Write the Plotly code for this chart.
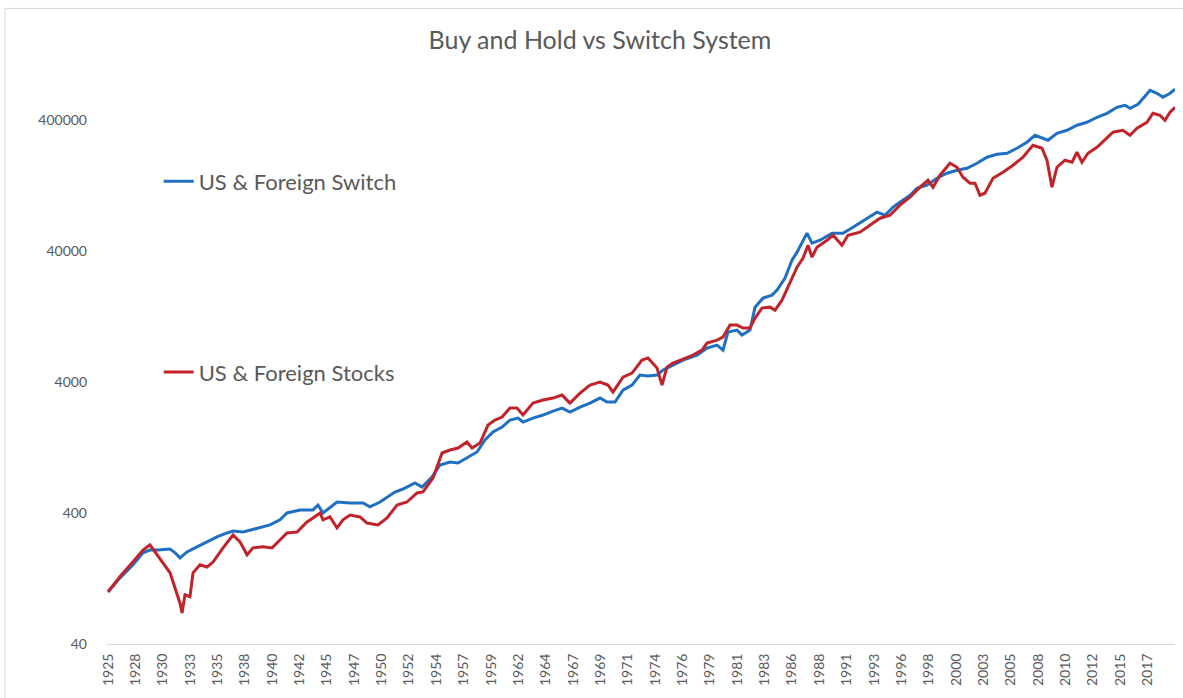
import plotly.graph_objects as go

# ---- data (year as decimal, value on log scale) ----
switch_years = [1925.92, 1926.98, 1928.13, 1929.01, 1929.63, 1930.34, 1931.40, 1931.84, 1932.28, 1932.90,
                1933.78, 1934.67, 1935.55, 1936.43, 1936.96, 1937.85, 1939.08, 1940.23, 1941.11, 1941.73,
                1942.88, 1944.03, 1944.47, 1944.91, 1946.15, 1947.30, 1948.45, 1949.06, 1949.95, 1950.21,
                1951.27, 1951.98, 1953.04, 1953.66, 1954.54, 1955.25, 1956.13, 1956.84, 1957.63, 1958.52,
                1959.22, 1959.93, 1960.73, 1961.43, 1962.14, 1962.58, 1963.46, 1964.35, 1965.23, 1966.03,
                1966.73, 1967.62, 1968.50, 1969.38, 1970.00, 1970.71, 1971.41, 1972.21, 1972.91, 1973.62,
                1974.42, 1974.95, 1975.83, 1976.72, 1977.95, 1978.84, 1979.72, 1980.25, 1980.69, 1981.49,
                1981.93, 1982.63, 1983.08, 1983.78, 1984.58, 1985.02, 1985.73, 1986.34, 1986.79, 1987.23,
                1987.67, 1988.11, 1988.82, 1989.88, 1990.85, 1991.73, 1992.97, 1993.85, 1994.56, 1995.27,
                1995.88, 1996.77, 1997.39, 1998.27, 1999.15, 2000.04, 2000.92, 2001.80, 2002.69, 2003.57,
                2004.45, 2005.34, 2006.22, 2007.10, 2007.81, 2008.52, 2008.96, 2009.75, 2010.64, 2011.52,
                2012.40, 2013.29, 2014.17, 2015.05, 2015.76, 2016.20, 2016.91, 2017.53, 2017.97, 2018.59,
                2019.12, 2019.74, 2020.18]
switch_values = [100, 128, 161, 199, 209, 209, 213, 199, 182, 202,
                 221, 241, 263, 282, 292, 287, 308, 325, 355, 401,
                 423, 423, 461, 401, 486, 478, 478, 446, 486, 504,
                 580, 611, 679, 633, 755, 932, 983, 965, 1054, 1172,
                 1447, 1665, 1818, 2056, 2129, 1985, 2129, 2245, 2408, 2538,
                 2366, 2584, 2771, 3027, 2821, 2821, 3483, 3803, 4534, 4456,
                 4534, 4951, 5405, 5902, 6445, 7289, 7684, 7037, 9654, 10000,
                 9158, 10000, 14980, 17550, 18500, 20200, 24950, 34220, 39390, 46150,
                 55030, 46150, 48640, 55030, 55030, 61140, 71610, 79580, 75490, 86880,
                 94870, 107300, 121300, 127900, 144700, 157900, 166500, 172400, 188300, 209300,
                 220600, 224500, 245100, 272400, 308000, 292200, 282100, 319000, 336300, 367200,
                 387100, 422700, 453400, 503800, 521900, 495100, 531100, 611400, 679400, 644500,
                 600600, 644500, 691400]

stocks_years = [1925.92, 1926.98, 1928.13, 1929.01, 1929.63, 1930.07, 1930.78, 1931.40, 1931.84, 1932.28,
                1932.46, 1932.72, 1933.16, 1933.43, 1934.05, 1934.67, 1935.20, 1936.08, 1936.96, 1937.58,
                1938.20, 1938.73, 1939.61, 1940.41, 1941.11, 1941.73, 1942.62, 1943.50, 1944.03, 1944.65,
                1944.91, 1945.53, 1946.15, 1946.68, 1947.30, 1948.18, 1948.80, 1949.77, 1950.57, 1951.45,
                1952.33, 1953.22, 1953.75, 1954.63, 1955.43, 1956.13, 1956.84, 1957.63, 1958.08, 1958.78,
                1959.49, 1960.11, 1960.73, 1961.43, 1962.05, 1962.58, 1963.46, 1964.35, 1965.23, 1966.03,
                1966.73, 1967.62, 1968.50, 1969.38, 1970.09, 1970.53, 1971.41, 1972.21, 1973.09, 1973.62,
                1974.42, 1974.86, 1975.30, 1975.83, 1976.72, 1977.60, 1978.39, 1978.84, 1979.72, 1980.25,
                1980.87, 1981.49, 1982.02, 1982.63, 1983.08, 1983.69, 1984.40, 1984.84, 1985.46, 1986.17,
                1986.79, 1987.32, 1987.76, 1988.11, 1988.55, 1989.44, 1989.97, 1990.76, 1991.29, 1992.35,
                1993.23, 1994.12, 1995.00, 1995.88, 1996.77, 1997.65, 1998.36, 1998.80, 1999.42, 2000.30,
                2000.92, 2001.45, 2002.07, 2002.51, 2002.95, 2003.39, 2004.10, 2004.98, 2005.87, 2006.75,
                2007.63, 2008.43, 2008.87, 2009.31, 2009.75, 2010.46, 2011.08, 2011.52, 2011.96, 2012.49,
                2013.29, 2014.17, 2014.70, 2015.58, 2016.20, 2016.82, 2017.70, 2018.23, 2018.85, 2019.29,
                2019.74, 2020.18]
stocks_values = [100, 131, 170, 209, 229, 203, 166, 140, 107, 82,
                 69, 95, 92, 140, 161, 155, 169, 217, 272, 241,
                 192, 217, 221, 217, 249, 282, 287, 342, 367, 401,
                 355, 374, 308, 355, 387, 374, 336, 325, 367, 461,
                 486, 570, 580, 742, 1151, 1213, 1257, 1396, 1257, 1372,
                 1883, 2056, 2167, 2538, 2538, 2245, 2771, 2922, 3027, 3190,
                 2771, 3304, 3803, 4010, 3803, 3363, 4377, 4696, 5902, 6114,
                 5128, 3803, 5219, 5599, 6006, 6445, 7037, 7958, 8389, 8844,
                 10920, 10920, 10360, 10360, 12350, 14720, 14980, 14210, 16940, 22850,
                 30270, 35440, 44560, 36080, 43020, 48640, 53110, 44560, 53110, 56000,
                 63320, 71610, 75490, 90000, 103600, 123500, 139600, 123500, 152500, 188300,
                 175500, 147200, 132500, 132500, 107300, 111100, 144700, 160800, 181800, 209300,
                 258400, 245100, 198500, 123500, 175500, 198500, 191600, 228500, 191600, 224500,
                 249500, 297400, 324700, 336300, 308000, 348300, 387100, 453400, 437700, 401000,
                 461500, 503800]

tick_labels = ["1925", "1928", "1930", "1933", "1935", "1938", "1940", "1942", "1945", "1947",
               "1950", "1952", "1954", "1957", "1959", "1962", "1964", "1967", "1969", "1971",
               "1974", "1976", "1979", "1981", "1983", "1986", "1988", "1991", "1993", "1996",
               "1998", "2000", "2003", "2005", "2008", "2010", "2012", "2015", "2017"]
first_period = 1925.92
tick_step_months = 29
y_tick_values = [40, 400, 4000, 40000, 400000]

# ---- figure ----
FONT = "Lato, 'Open Sans', sans-serif"
GRAY = "#595959"
BLUE = "#1f6fc2"
RED = "#c1232b"

tick_vals = [first_period + i * tick_step_months / 12 for i in range(len(tick_labels))]

fig = go.Figure()
fig.add_trace(go.Scatter(x=switch_years, y=switch_values, mode="lines",
                         name="US & Foreign Switch", line=dict(color=BLUE, width=3),
                         legend="legend", showlegend=True))
fig.add_trace(go.Scatter(x=stocks_years, y=stocks_values, mode="lines",
                         name="US & Foreign Stocks", line=dict(color=RED, width=3),
                         legend="legend2", showlegend=True))

leg_common = dict(xanchor="left", yanchor="middle", bgcolor="rgba(0,0,0,0)", borderwidth=0,
                  font=dict(size=22, color=GRAY, family=FONT))

fig.update_layout(
    width=1183, height=698,
    showlegend=True,
    margin=dict(l=107, r=8, t=81, b=54, autoexpand=False),
    paper_bgcolor="white", plot_bgcolor="white",
    font=dict(family=FONT, color=GRAY),
    title=dict(text="Buy and Hold vs Switch System", font=dict(size=25, color=GRAY, family=FONT),
               x=600 / 1183, xanchor="center", xref="container",
               y=1 - 40 / 698, yanchor="middle", yref="container"),
    xaxis=dict(range=[1925.83, 2020.18], tickmode="array", tickvals=tick_vals, ticktext=tick_labels,
               tickangle=-90, tickfont=dict(size=14, color=GRAY), showgrid=False, zeroline=False,
               showline=True, linecolor="#d9d9d9", linewidth=1, ticks="", ticklabelstandoff=3,
               automargin=False),
    yaxis=dict(type="log", range=[1.60206, 5.90309], tickmode="array", tickvals=y_tick_values,
               ticktext=[str(v) for v in y_tick_values], tickfont=dict(size=14, color=GRAY),
               showgrid=False, zeroline=False, showline=False, ticks="", ticklabelstandoff=19,
               automargin=False),
    legend=dict(x=0.0484, y=(644 - 181) / 563.4, **leg_common),
    legend2=dict(x=0.0484, y=(644 - 372) / 563.4, **leg_common),
    shapes=[
        dict(type="line", xref="paper", yref="paper", x0=-0.0955, x1=-0.0955, y0=1.1289, y1=-0.12,
             line=dict(color="#d9d9d9", width=1)),
        dict(type="line", xref="paper", yref="paper", x0=-0.0955, x1=1.02, y0=1.1289, y1=1.1289,
             line=dict(color="#d9d9d9", width=1)),
    ],
)

fig.write_html("out.html", config={"displayModeBar": False},
               post_script="document.body.style.margin='0px';")
